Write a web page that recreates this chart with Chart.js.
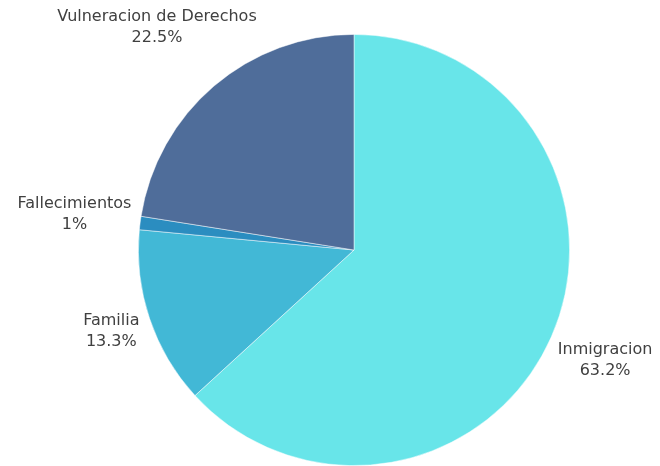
<!DOCTYPE html>
<html>
<head>
<meta charset="utf-8">
<script src="https://cdn.jsdelivr.net/npm/chart.js@4/dist/chart.umd.min.js"></script>
<style>
  html, body { margin: 0; padding: 0; background: #fff; }
  #wrap { width: 660px; height: 466px; }
</style>
</head>
<body>
<div id="wrap"><canvas id="pie"></canvas></div>
<script>
'use strict'

// data
const categories = ['Inmigracion', 'Familia', 'Fallecimientos', 'Vulneracion de Derechos'];
const shares = [63.2, 13.3, 1, 22.5];
const sliceColors = ['#68e5e9', '#42b8d6', '#2b8dc0', '#4f6d9a'];

const labelFont = '16px "DejaVu Sans", sans-serif';
const lineH = 21;

// labels outside each slice, text + percent
const outsideLabels = {
  id: 'outsideLabels',
  afterDatasetsDraw(chart) {
    const ctx = chart.ctx;
    const meta = chart.getDatasetMeta(0);
    ctx.save();
    ctx.font = labelFont;
    ctx.fillStyle = '#404040';
    ctx.textAlign = 'center';
    ctx.textBaseline = 'middle';
    meta.data.forEach((arc, i) => {
      const p = arc.getProps(['x', 'y', 'startAngle', 'endAngle', 'outerRadius'], true);
      const mid = (p.startAngle + p.endAngle) / 2;
      const ux = Math.cos(mid), uy = Math.sin(mid);
      const lines = [categories[i], shares[i] + '%'];
      const w = Math.max(...lines.map(t => ctx.measureText(t).width));
      const h = lines.length * lineH;
      const ext = Math.abs(ux) * w / 2 + Math.abs(uy) * h / 2;
      const d = p.outerRadius + 7 + ext;
      let cx = p.x + ux * d;
      let cy = p.y + uy * d;
      // keep inside the canvas
      cx = Math.min(Math.max(cx, w / 2 + 5), chart.width - w / 2 - 5);
      cy = Math.min(Math.max(cy, h / 2 + 6), chart.height - h / 2 - 5);
      lines.forEach((t, k) => {
        ctx.fillText(t, cx, cy - h / 2 + lineH / 2 + k * lineH);
      });
    });
    ctx.restore();
  }
};

const data = {
  labels: categories,
  datasets: [{
    data: shares,
    backgroundColor: sliceColors,
    borderColor: 'rgba(255,255,255,0.6)',
    borderWidth: 0.8
  }]
};

const config = {
  type: 'pie',
  data: data,
  options: {
    responsive: true,
    maintainAspectRatio: false,
    animation: false,
    layout: { padding: { top: 34, bottom: 0, left: 138, right: 90 } },
    plugins: {
      legend: { display: false },
      tooltip: { enabled: false }
    }
  },
  plugins: [outsideLabels]
};

new Chart(document.getElementById('pie'), config);
</script>
</body>
</html>
